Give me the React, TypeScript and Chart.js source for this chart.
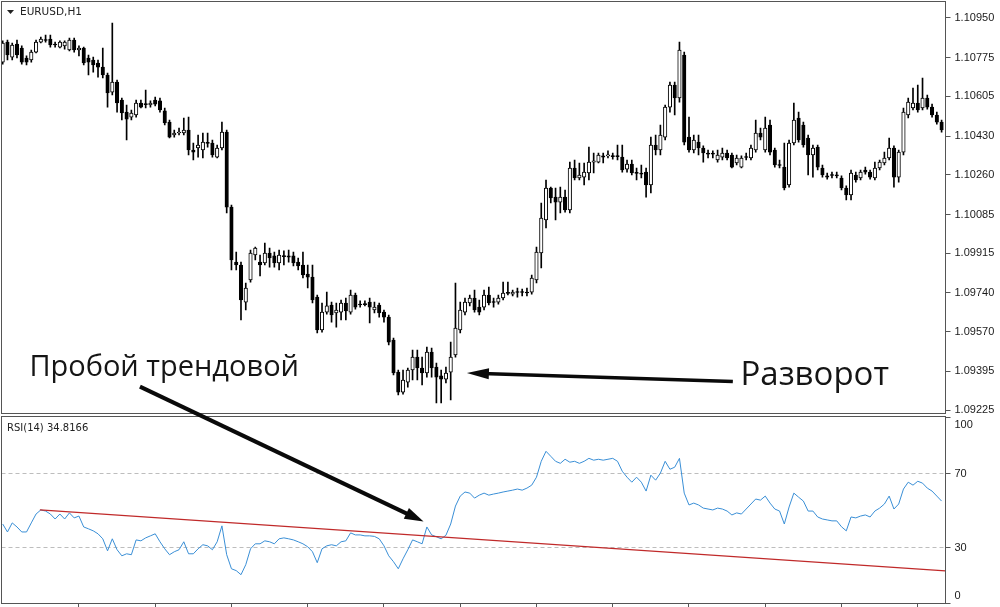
import React, { useEffect, useRef } from 'react';
import { Chart, registerables } from 'chart.js';

Chart.register(...registerables);

// ---- EURUSD H1 candles (one entry per bar, oldest first) ----
const OPEN = [
  1.10756, 1.10844, 1.10778, 1.10835, 1.10818, 1.10774, 1.10765, 1.10800, 1.10844, 1.10853,
  1.10857, 1.10835, 1.10822, 1.10827, 1.10809, 1.10853, 1.10809, 1.10818, 1.10774, 1.10765,
  1.10752, 1.10734, 1.10699, 1.10624, 1.10668, 1.10589, 1.10536, 1.10514, 1.10523, 1.10576,
  1.10571, 1.10567, 1.10589, 1.10585, 1.10541, 1.10492, 1.10435, 1.10444, 1.10444, 1.10457,
  1.10369, 1.10378, 1.10369, 1.10400, 1.10400, 1.10338, 1.10378, 1.10448, 1.10118, 1.09876,
  1.09863, 1.09700, 1.09797, 1.09907, 1.09876, 1.09872, 1.09916, 1.09903, 1.09872, 1.09903,
  1.09903, 1.09903, 1.09876, 1.09863, 1.09823, 1.09810, 1.09722, 1.09577, 1.09656, 1.09687,
  1.09652, 1.09656, 1.09696, 1.09656, 1.09731, 1.09691, 1.09691, 1.09700, 1.09665, 1.09687,
  1.09656, 1.09634, 1.09533, 1.09392, 1.09304, 1.09348, 1.09401, 1.09458, 1.09410, 1.09388,
  1.09480, 1.09414, 1.09375, 1.09361, 1.09392, 1.09467, 1.09577, 1.09656, 1.09696, 1.09718,
  1.09678, 1.09678, 1.09731, 1.09700, 1.09700, 1.09718, 1.09740, 1.09735, 1.09744, 1.09744,
  1.09744, 1.09744, 1.09797, 1.09916, 1.10061, 1.10202, 1.10162, 1.10140, 1.10162, 1.10105,
  1.10290, 1.10246, 1.10250, 1.10268, 1.10316, 1.10316, 1.10343, 1.10343, 1.10343, 1.10343,
  1.10338, 1.10285, 1.10307, 1.10268, 1.10268, 1.10272, 1.10215, 1.10391, 1.10369, 1.10426,
  1.10558, 1.10655, 1.10598, 1.10787, 1.10426, 1.10369, 1.10404, 1.10378, 1.10356, 1.10356,
  1.10325, 1.10338, 1.10356, 1.10347, 1.10312, 1.10294, 1.10338, 1.10334, 1.10369, 1.10444,
  1.10369, 1.10479, 1.10369, 1.10303, 1.10294, 1.10215, 1.10400, 1.10510, 1.10479, 1.10422,
  1.10347, 1.10382, 1.10290, 1.10255, 1.10259, 1.10259, 1.10246, 1.10202, 1.10171, 1.10259,
  1.10246, 1.10281, 1.10272, 1.10246, 1.10290, 1.10312, 1.10334, 1.10378, 1.10250, 1.10360,
  1.10523, 1.10554, 1.10576, 1.10554, 1.10598, 1.10558, 1.10523, 1.10492,
];

const HIGH = [
  1.10849, 1.10853, 1.10840, 1.10853, 1.10827, 1.10783, 1.10809, 1.10853, 1.10866, 1.10875,
  1.10875, 1.10844, 1.10849, 1.10849, 1.10862, 1.10862, 1.10827, 1.10822, 1.10787, 1.10778,
  1.10765, 1.10818, 1.10708, 1.10928, 1.10677, 1.10598, 1.10567, 1.10545, 1.10589, 1.10589,
  1.10633, 1.10585, 1.10602, 1.10598, 1.10554, 1.10501, 1.10457, 1.10466, 1.10510, 1.10514,
  1.10400, 1.10435, 1.10444, 1.10444, 1.10413, 1.10391, 1.10492, 1.10457, 1.10127, 1.09920,
  1.09876, 1.09784, 1.09929, 1.09942, 1.09907, 1.09960, 1.09938, 1.09920, 1.09929, 1.09925,
  1.09929, 1.09920, 1.09894, 1.09920, 1.09863, 1.09863, 1.09731, 1.09696, 1.09744, 1.09700,
  1.09696, 1.09709, 1.09718, 1.09753, 1.09740, 1.09705, 1.09705, 1.09718, 1.09700, 1.09696,
  1.09665, 1.09643, 1.09542, 1.09401, 1.09401, 1.09410, 1.09489, 1.09489, 1.09458, 1.09502,
  1.09498, 1.09432, 1.09401, 1.09414, 1.09524, 1.09784, 1.09700, 1.09718, 1.09731, 1.09753,
  1.09709, 1.09753, 1.09766, 1.09718, 1.09731, 1.09788, 1.09788, 1.09753, 1.09762, 1.09757,
  1.09762, 1.09819, 1.09942, 1.10136, 1.10237, 1.10206, 1.10202, 1.10206, 1.10193, 1.10316,
  1.10325, 1.10312, 1.10312, 1.10382, 1.10356, 1.10356, 1.10356, 1.10365, 1.10356, 1.10391,
  1.10391, 1.10325, 1.10325, 1.10290, 1.10303, 1.10290, 1.10426, 1.10435, 1.10479, 1.10567,
  1.10668, 1.10668, 1.10844, 1.10800, 1.10514, 1.10435, 1.10435, 1.10387, 1.10369, 1.10365,
  1.10369, 1.10378, 1.10369, 1.10356, 1.10347, 1.10343, 1.10356, 1.10391, 1.10501, 1.10466,
  1.10514, 1.10501, 1.10378, 1.10325, 1.10400, 1.10413, 1.10576, 1.10536, 1.10492, 1.10435,
  1.10391, 1.10391, 1.10303, 1.10268, 1.10272, 1.10272, 1.10255, 1.10211, 1.10281, 1.10272,
  1.10281, 1.10294, 1.10281, 1.10316, 1.10325, 1.10360, 1.10422, 1.10387, 1.10369, 1.10554,
  1.10598, 1.10642, 1.10655, 1.10686, 1.10611, 1.10571, 1.10536, 1.10501,
];

const LOW = [
  1.10747, 1.10765, 1.10765, 1.10774, 1.10747, 1.10743, 1.10756, 1.10796, 1.10840, 1.10844,
  1.10822, 1.10822, 1.10818, 1.10813, 1.10805, 1.10800, 1.10783, 1.10743, 1.10699, 1.10712,
  1.10690, 1.10686, 1.10558, 1.10611, 1.10536, 1.10501, 1.10413, 1.10501, 1.10514, 1.10554,
  1.10554, 1.10558, 1.10563, 1.10536, 1.10479, 1.10422, 1.10426, 1.10435, 1.10435, 1.10347,
  1.10325, 1.10338, 1.10334, 1.10382, 1.10338, 1.10334, 1.10369, 1.10092, 1.09841, 1.09841,
  1.09621, 1.09665, 1.09788, 1.09885, 1.09815, 1.09863, 1.09854, 1.09854, 1.09841, 1.09863,
  1.09876, 1.09859, 1.09841, 1.09806, 1.09762, 1.09696, 1.09564, 1.09568, 1.09647, 1.09612,
  1.09590, 1.09621, 1.09621, 1.09647, 1.09669, 1.09678, 1.09683, 1.09608, 1.09652, 1.09634,
  1.09612, 1.09511, 1.09379, 1.09291, 1.09295, 1.09326, 1.09357, 1.09357, 1.09335, 1.09370,
  1.09370, 1.09256, 1.09256, 1.09344, 1.09269, 1.09458, 1.09564, 1.09643, 1.09683, 1.09656,
  1.09643, 1.09665, 1.09687, 1.09678, 1.09691, 1.09709, 1.09731, 1.09727, 1.09722, 1.09727,
  1.09727, 1.09735, 1.09784, 1.09850, 1.10026, 1.10136, 1.10061, 1.10092, 1.10096, 1.10092,
  1.10237, 1.10237, 1.10215, 1.10237, 1.10268, 1.10312, 1.10312, 1.10334, 1.10329, 1.10325,
  1.10272, 1.10272, 1.10259, 1.10237, 1.10246, 1.10162, 1.10180, 1.10347, 1.10347, 1.10413,
  1.10536, 1.10523, 1.10580, 1.10391, 1.10360, 1.10356, 1.10347, 1.10316, 1.10334, 1.10334,
  1.10316, 1.10325, 1.10325, 1.10290, 1.10303, 1.10290, 1.10325, 1.10325, 1.10360, 1.10413,
  1.10360, 1.10347, 1.10294, 1.10290, 1.10193, 1.10206, 1.10391, 1.10404, 1.10382, 1.10259,
  1.10250, 1.10281, 1.10250, 1.10241, 1.10246, 1.10246, 1.10193, 1.10149, 1.10149, 1.10228,
  1.10237, 1.10263, 1.10241, 1.10237, 1.10281, 1.10303, 1.10325, 1.10206, 1.10228, 1.10347,
  1.10510, 1.10545, 1.10536, 1.10545, 1.10549, 1.10514, 1.10483, 1.10448,
];

const CLOSE = [
  1.10840, 1.10787, 1.10831, 1.10787, 1.10756, 1.10756, 1.10800, 1.10844, 1.10857, 1.10851,
  1.10831, 1.10831, 1.10844, 1.10844, 1.10853, 1.10809, 1.10818, 1.10752, 1.10756, 1.10743,
  1.10734, 1.10699, 1.10620, 1.10668, 1.10576, 1.10532, 1.10505, 1.10532, 1.10576, 1.10558,
  1.10569, 1.10576, 1.10571, 1.10545, 1.10488, 1.10426, 1.10444, 1.10448, 1.10457, 1.10369,
  1.10360, 1.10391, 1.10404, 1.10398, 1.10347, 1.10378, 1.10448, 1.10118, 1.09885, 1.09863,
  1.09709, 1.09762, 1.09916, 1.09938, 1.09863, 1.09916, 1.09894, 1.09872, 1.09907, 1.09900,
  1.09898, 1.09872, 1.09859, 1.09819, 1.09810, 1.09709, 1.09577, 1.09656, 1.09683, 1.09643,
  1.09665, 1.09696, 1.09661, 1.09731, 1.09678, 1.09687, 1.09689, 1.09678, 1.09678, 1.09652,
  1.09634, 1.09524, 1.09388, 1.09304, 1.09357, 1.09401, 1.09458, 1.09410, 1.09388, 1.09480,
  1.09410, 1.09370, 1.09361, 1.09388, 1.09458, 1.09586, 1.09665, 1.09700, 1.09718, 1.09665,
  1.09656, 1.09731, 1.09696, 1.09698, 1.09718, 1.09740, 1.09738, 1.09744, 1.09742, 1.09742,
  1.09740, 1.09806, 1.09920, 1.10070, 1.10202, 1.10158, 1.10140, 1.10162, 1.10105, 1.10290,
  1.10246, 1.10259, 1.10272, 1.10316, 1.10321, 1.10347, 1.10338, 1.10347, 1.10340, 1.10340,
  1.10281, 1.10307, 1.10268, 1.10266, 1.10263, 1.10215, 1.10391, 1.10369, 1.10435, 1.10558,
  1.10655, 1.10598, 1.10809, 1.10404, 1.10369, 1.10413, 1.10378, 1.10356, 1.10351, 1.10351,
  1.10347, 1.10356, 1.10334, 1.10294, 1.10334, 1.10334, 1.10336, 1.10378, 1.10444, 1.10426,
  1.10466, 1.10360, 1.10303, 1.10301, 1.10202, 1.10400, 1.10501, 1.10413, 1.10391, 1.10347,
  1.10378, 1.10294, 1.10259, 1.10250, 1.10257, 1.10255, 1.10202, 1.10171, 1.10268, 1.10237,
  1.10272, 1.10272, 1.10250, 1.10290, 1.10316, 1.10334, 1.10378, 1.10250, 1.10360, 1.10536,
  1.10580, 1.10576, 1.10545, 1.10598, 1.10558, 1.10523, 1.10492, 1.10457,
];

// ---- RSI(14), one value per bar ----
const RSI = [
  42.7, 38.4, 43.3, 41.1, 38.4, 38.4, 43.3, 48.1, 50.3, 49.7,
  48.1, 45.4, 48.1, 45.4, 48.7, 46.0, 47.0, 41.1, 40.1, 39.0,
  37.4, 34.7, 28.2, 34.7, 28.8, 25.5, 26.6, 26.1, 34.1, 33.6,
  35.2, 36.3, 37.4, 33.1, 29.3, 26.1, 27.7, 28.8, 33.1, 26.6,
  26.6, 29.3, 31.5, 30.9, 28.8, 33.1, 41.7, 26.1, 18.5, 17.5,
  15.3, 20.7, 29.3, 32.0, 32.0, 33.6, 33.1, 32.0, 34.7, 35.2,
  34.7, 34.1, 33.1, 32.0, 30.4, 27.7, 21.8, 29.3, 30.9, 31.5,
  30.9, 33.1, 33.6, 37.9, 36.8, 36.8, 36.3, 36.3, 36.0, 34.7,
  30.9, 25.5, 22.3, 18.5, 23.9, 28.8, 34.1, 33.1, 32.0, 41.1,
  36.8, 35.8, 34.7, 36.6, 42.7, 52.4, 57.8, 60.0, 59.4, 56.7,
  58.3, 59.4, 58.3, 58.9, 59.4, 60.0, 60.5, 61.0, 61.6, 61.0,
  62.1, 63.7, 68.0, 76.6, 82.0, 79.3, 76.6, 75.5, 77.7, 76.1,
  76.6, 75.5, 76.6, 78.2, 77.2, 77.7, 77.2, 77.7, 78.2, 76.6,
  71.2, 68.0, 65.3, 68.0, 65.3, 60.5, 69.1, 66.4, 70.2, 76.6,
  72.3, 73.4, 78.2, 59.4, 53.0, 54.0, 53.0, 51.3, 50.8, 50.3,
  51.3, 50.8, 49.7, 47.6, 48.7, 48.1, 50.8, 53.5, 56.2, 55.6,
  57.8, 54.0, 50.8, 49.7, 42.7, 51.9, 59.4, 57.2, 55.1, 49.7,
  49.7, 46.5, 45.4, 44.9, 44.4, 44.4, 41.2, 39.0, 46.5, 46.0,
  47.0, 47.6, 46.5, 49.7, 51.3, 53.5, 57.8, 50.8, 53.5, 61.6,
  65.3, 63.7, 65.8, 64.8, 62.1, 60.5, 57.8, 55.1,
];

// ---- axis ticks / labels ----
const PRICE_TICKS = [1.10950, 1.10775, 1.10605, 1.10430, 1.10260, 1.10085, 1.09915, 1.09740, 1.09570, 1.09395, 1.09225];
const RSI_TICKS = [100, 70, 30, 0];
const RSI_LEVELS = [70, 30];
const TIME_TICK_BARS = [16, 32, 48, 64, 80, 96, 112, 128, 144, 160, 176, 192];

// trend line drawn on the RSI window (bar index, RSI value)
const TREND_LINE = [
  { x: 7.8, y: 50.3 },
  { x: 197.8, y: 17.4 },
];

const SYMBOL_LABEL = 'EURUSD,H1';
const RSI_LABEL = 'RSI(14) 34.8166';
const NOTE_BREAK = 'Пробой трендовой';
const NOTE_REVERSAL = 'Разворот';

// annotation anchors in data units
const BREAK_TEXT_AT = { bar: 5.6, price: 1.09375 };
const REVERSAL_TEXT_AT = { bar: 154.8, price: 1.09333 };
const BREAK_ARROW = { fromBar: 28.8, fromPrice: 1.09328, toBar: 88.3, toRsi: 44.0 };
const REVERSAL_ARROW = { fromBar: 153.2, fromPrice: 1.0935, toBar: 97.4, toPrice: 1.09388 };

// ---- layout / style ----
const W = 1000;
const H = 607;
const X_MIN = -0.25;
const X_MAX = 197.82;
const PRICE_MIN = 1.09203;
const PRICE_MAX = 1.110226;
const RSI_MIN = -0.16;
const RSI_MAX = 101.62;
const PRICE_PANE_WEIGHT = 413.5;
const RSI_PANE_WEIGHT = 188.3;
const MAIN_BOTTOM = 413.5;
const RSI_TOP = 416.5;
const FRAME = '#555555';
const LABEL_COLOR = '#1a1a1a';
const AXIS_FONT = { family: 'Liberation Sans, Arial, sans-serif', size: 11 };

function drawArrow(ctx: CanvasRenderingContext2D, x1: number, y1: number, x2: number, y2: number, lw: number, headLen: number, headW: number) {
  const ang = Math.atan2(y2 - y1, x2 - x1);
  const c = Math.cos(ang);
  const s = Math.sin(ang);
  const bx = x2 - headLen * c;
  const by = y2 - headLen * s;
  ctx.lineWidth = lw;
  ctx.lineCap = 'butt';
  ctx.beginPath();
  ctx.moveTo(x1, y1);
  ctx.lineTo(x2 - headLen * 0.7 * c, y2 - headLen * 0.7 * s);
  ctx.stroke();
  ctx.beginPath();
  ctx.moveTo(x2, y2);
  ctx.lineTo(bx + (headW / 2) * s, by - (headW / 2) * c);
  ctx.lineTo(bx - (headW / 2) * s, by + (headW / 2) * c);
  ctx.closePath();
  ctx.fill();
}

const overlayPlugin = {
  id: 'mtOverlay',
  afterDraw(chart: any) {
    const { ctx, chartArea: a, scales } = chart;
    const sx = scales.x;
    const sp = scales.yP;
    const sr = scales.yR;
    const crisp = (v: number) => Math.floor(v) + 0.5;
    ctx.save();

    // panel frames
    ctx.strokeStyle = FRAME;
    ctx.lineWidth = 1;
    const l = crisp(a.left);
    const r = crisp(a.right);
    ctx.strokeRect(l, crisp(a.top), r - l, crisp(MAIN_BOTTOM) - crisp(a.top));
    ctx.strokeRect(l, crisp(RSI_TOP), r - l, crisp(a.bottom) - crisp(RSI_TOP));

    // window titles
    ctx.fillStyle = '#222222';
    ctx.beginPath();
    ctx.moveTo(a.left + 5.5, a.top + 8.5);
    ctx.lineTo(a.left + 12.5, a.top + 8.5);
    ctx.lineTo(a.left + 9, a.top + 12.5);
    ctx.closePath();
    ctx.fill();
    ctx.font = '10.5px "DejaVu Sans", sans-serif';
    ctx.textBaseline = 'middle';
    ctx.textAlign = 'left';
    ctx.fillText(SYMBOL_LABEL, a.left + 18.5, a.top + 11);
    ctx.font = '10px "DejaVu Sans", sans-serif';
    ctx.fillText(RSI_LABEL, a.left + 5.5, RSI_TOP + 12);

    // notes
    ctx.fillStyle = '#151515';
    ctx.strokeStyle = '#0a0a0a';
    ctx.textBaseline = 'alphabetic';
    ctx.font = '29px "Open Sans", "Noto Sans", sans-serif';
    ctx.fillText(NOTE_BREAK, sx.getPixelForValue(BREAK_TEXT_AT.bar), sp.getPixelForValue(BREAK_TEXT_AT.price));
    ctx.font = '33px "Open Sans", "Noto Sans", sans-serif';
    ctx.fillText(NOTE_REVERSAL, sx.getPixelForValue(REVERSAL_TEXT_AT.bar), sp.getPixelForValue(REVERSAL_TEXT_AT.price));

    ctx.fillStyle = '#0a0a0a';
    drawArrow(
      ctx,
      sx.getPixelForValue(BREAK_ARROW.fromBar), sp.getPixelForValue(BREAK_ARROW.fromPrice),
      sx.getPixelForValue(BREAK_ARROW.toBar), sr.getPixelForValue(BREAK_ARROW.toRsi),
      4, 19, 12,
    );
    drawArrow(
      ctx,
      sx.getPixelForValue(REVERSAL_ARROW.fromBar), sp.getPixelForValue(REVERSAL_ARROW.fromPrice),
      sx.getPixelForValue(REVERSAL_ARROW.toBar), sp.getPixelForValue(REVERSAL_ARROW.toPrice),
      3.5, 22, 11,
    );
    ctx.restore();
  },
};

export default function App() {
  const canvasRef = useRef<HTMLCanvasElement | null>(null);

  useEffect(() => {
    document.body.style.margin = '0';
    const canvas = canvasRef.current;
    if (!canvas) return;

    const idx = OPEN.map((_, i) => i);
    const wickData = idx.map((i) => ({ x: i, y: [LOW[i], HIGH[i]] }));
    const bodyData = idx.map((i) => ({ x: i, y: [OPEN[i], CLOSE[i]] }));
    const bodyFill = idx.map((i) => (CLOSE[i] > OPEN[i] ? '#ffffff' : '#000000'));
    const rsiData = RSI.map((v, i) => ({ x: i, y: v }));

    const chart = new Chart(canvas, {
      type: 'bar',
      data: {
        datasets: [
          {
            type: 'bar',
            label: 'bodies',
            data: bodyData as any,
            xAxisID: 'x',
            yAxisID: 'yP',
            backgroundColor: bodyFill,
            borderColor: '#000000',
            borderWidth: 1,
            borderSkipped: false,
            barThickness: 3.5,
            minBarLength: 1,
            grouped: false,
            order: 1,
          } as any,
          {
            type: 'bar',
            label: 'wicks',
            data: wickData as any,
            xAxisID: 'x',
            yAxisID: 'yP',
            backgroundColor: '#000000',
            borderWidth: 0,
            barThickness: 1,
            minBarLength: 1,
            grouped: false,
            order: 2,
          } as any,
          {
            type: 'line',
            label: 'trend',
            data: TREND_LINE as any,
            xAxisID: 'x',
            yAxisID: 'yR',
            borderColor: '#c02a2a',
            borderWidth: 1.2,
            pointRadius: 0,
            tension: 0,
            fill: false,
            order: 3,
          } as any,
          {
            type: 'line',
            label: 'RSI',
            data: rsiData as any,
            xAxisID: 'x',
            yAxisID: 'yR',
            borderColor: '#3a8fd6',
            borderWidth: 1,
            pointRadius: 0,
            tension: 0,
            fill: false,
            order: 4,
          } as any,
        ],
      },
      options: {
        responsive: false,
        animation: false,
        devicePixelRatio: 1,
        events: [],
        layout: { padding: { left: 1.5, top: 1.5, right: 0, bottom: 0 } },
        plugins: { legend: { display: false }, tooltip: { enabled: false } },
        scales: {
          x: {
            type: 'linear',
            position: 'bottom',
            min: X_MIN,
            max: X_MAX,
            offset: false,
            grid: { offset: false, display: true, drawOnChartArea: false, drawTicks: true, tickLength: 4, color: FRAME, tickColor: FRAME },
            border: { display: false },
            ticks: { display: false },
            afterBuildTicks: (s: any) => {
              s.ticks = TIME_TICK_BARS.map((v) => ({ value: v }));
            },
            afterFit: (s: any) => {
              s.height = 3.7;
              s.paddingLeft = 0;
              s.paddingRight = 0;
            },
          },
          yP: {
            type: 'linear',
            position: 'right',
            stack: 'panes',
            stackWeight: PRICE_PANE_WEIGHT,
            weight: 0,
            min: PRICE_MIN,
            max: PRICE_MAX,
            grid: { drawOnChartArea: false, drawTicks: true, tickLength: 5, tickColor: FRAME, color: FRAME },
            border: { display: false },
            ticks: {
              autoSkip: false,
              padding: 4,
              color: LABEL_COLOR,
              font: AXIS_FONT,
              callback: (v: any) => Number(v).toFixed(5),
            },
            afterBuildTicks: (s: any) => {
              s.ticks = PRICE_TICKS.map((v) => ({ value: v }));
            },
            afterFit: (s: any) => {
              s.width = 54.5;
              s.paddingTop = 0;
              s.paddingBottom = 0;
            },
          },
          yR: {
            type: 'linear',
            position: 'right',
            stack: 'panes',
            stackWeight: RSI_PANE_WEIGHT,
            weight: 1,
            min: RSI_MIN,
            max: RSI_MAX,
            grid: {
              drawOnChartArea: true,
              drawTicks: true,
              tickLength: 5,
              lineWidth: 1,
              color: (c: any) => (c.tick && RSI_LEVELS.includes(c.tick.value) ? '#bdbdbd' : 'rgba(0,0,0,0)'),
              tickColor: FRAME,
            },
            border: { display: false, dash: [4, 3] },
            ticks: {
              autoSkip: false,
              padding: 4,
              color: LABEL_COLOR,
              font: AXIS_FONT,
              callback: (v: any) => (v === 100 ? ['', '100'] : v === 0 ? ['0', ''] : String(v)),
            },
            afterBuildTicks: (s: any) => {
              s.ticks = RSI_TICKS.map((v) => ({ value: v }));
            },
            afterFit: (s: any) => {
              s.width = 54.5;
              s.paddingTop = 0;
              s.paddingBottom = 0;
            },
          },
        },
      } as any,
      plugins: [overlayPlugin],
    });

    return () => chart.destroy();
  }, []);

  return (
    <div style={{ width: W, height: H, position: 'relative', background: '#ffffff' }}>
      <canvas ref={canvasRef} width={W} height={H} style={{ display: 'block', width: W, height: H }} />
    </div>
  );
}
